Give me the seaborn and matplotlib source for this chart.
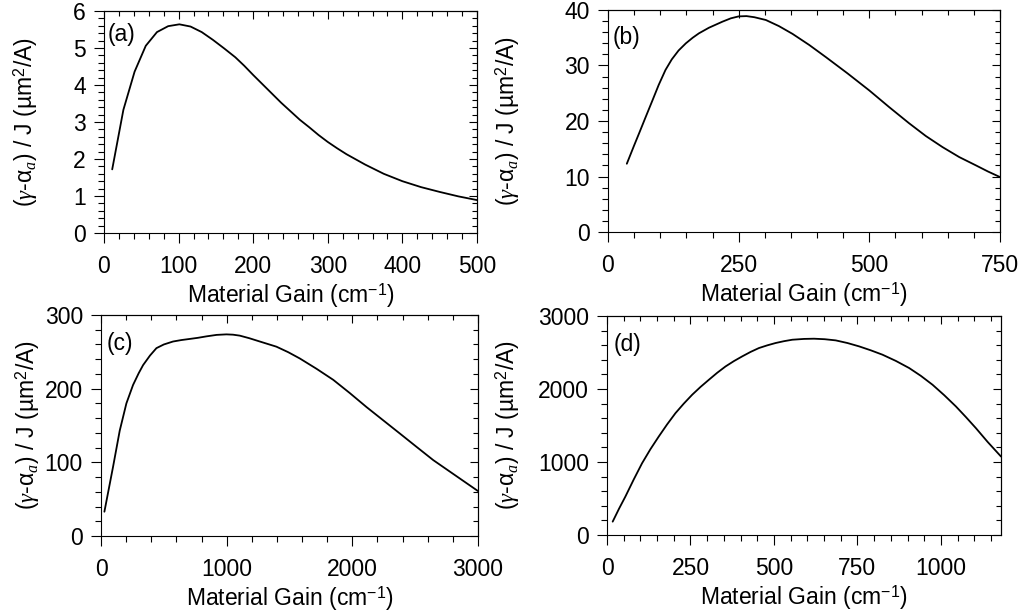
import matplotlib
matplotlib.use('Agg')
import matplotlib.pyplot as plt
from matplotlib.ticker import MultipleLocator, NullFormatter
import pandas as pd
import seaborn as sns

# values
gain_a = [11, 26, 41, 56, 71, 86, 101, 116, 131, 146, 161, 176, 188, 200, 212.5, 225,
          237.5, 250, 262.5, 275, 287.5, 300, 312.5, 325, 350, 375, 400, 425, 450,
          475, 500]
ratio_a = [1.72, 3.33, 4.36, 5.06, 5.43, 5.59, 5.64, 5.58, 5.43, 5.22, 4.99, 4.75,
           4.52, 4.27, 4.02, 3.77, 3.52, 3.29, 3.06, 2.86, 2.65, 2.46, 2.29, 2.13,
           1.85, 1.60, 1.40, 1.24, 1.11, 0.99, 0.89]

gain_b = [36, 50, 60, 72, 85, 97, 110, 122, 135, 149, 162, 174, 193, 219, 235, 250,
          265, 280, 302, 327, 353, 385, 417, 458, 500, 538, 576, 608, 640, 672, 704,
          727, 750]
ratio_b = [12.3, 15.6, 17.9, 20.7, 23.7, 26.5, 29.2, 31.1, 32.7, 34.0, 35.0, 35.8,
           36.8, 37.9, 38.5, 38.85, 38.9, 38.7, 38.2, 37.1, 35.7, 33.7, 31.5, 28.6,
           25.5, 22.5, 19.6, 17.3, 15.3, 13.5, 12.0, 10.9, 9.9]

gain_c = [27, 96, 149, 202, 255, 300, 335, 390, 441, 500, 573, 640, 706, 770, 839,
          920, 998, 1050, 1104, 1180, 1264, 1330, 1396, 1490, 1582, 1715, 1848, 1980,
          2113, 2246, 2379, 2511, 2644, 2822, 3000]
ratio_c = [33, 94, 143, 180, 205, 221, 232, 245, 255, 260, 264, 266, 267.5, 269, 271,
           273, 273.7, 273.3, 272, 268.5, 264, 260.5, 257, 249.5, 241, 227, 212, 194,
           175, 157, 139, 121, 103, 82, 61]

gain_d = [17, 36, 55, 80, 105, 130, 155, 180, 205, 230, 255, 280, 305, 330, 355, 380,
          405, 430, 455, 480, 505, 530, 555, 590, 620, 652, 685, 720, 755, 790, 825,
          865, 905, 940, 975, 1010, 1045, 1075, 1105, 1140, 1180]
ratio_d = [183, 360, 526, 760, 983, 1175, 1349, 1515, 1669, 1800, 1921, 2028, 2126,
           2222, 2309, 2382, 2447, 2508, 2561, 2598, 2630, 2655, 2675, 2686, 2689,
           2682, 2666, 2630, 2584, 2530, 2470, 2385, 2287, 2180, 2058, 1915, 1761,
           1615, 1463, 1275, 1075]

labels = ['(a)', '(b)', '(c)', '(d)']
xlims = [500, 750, 3000, 1180]
ylims = [6, 40, 300, 3000]

sns.set_style('ticks')
plt.rcParams['font.family'] = ['Liberation Sans', 'DejaVu Sans']
plt.rcParams['mathtext.fontset'] = 'custom'
plt.rcParams['mathtext.rm'] = 'Liberation Sans'
plt.rcParams['mathtext.it'] = 'Liberation Serif:italic'
plt.rcParams['font.size'] = 16.5
plt.rcParams['axes.linewidth'] = 0.8
for key in ['text.color', 'axes.labelcolor', 'xtick.color', 'ytick.color', 'axes.edgecolor']:
    plt.rcParams[key] = 'black'

W, H = 1019, 616
# pixel boxes: left, right, top, bottom
boxes = [(104, 477, 11, 233), (608, 1000, 10, 232),
         (101, 478, 315, 536), (607, 1001, 316, 535)]
ticks = [(100, 20, 1, 0.2), (250, 50, 10, 2), (1000, 200, 100, 20), (250, 50, 1000, 200)]
ylab_right = [40, 522, 42, 522]
tag_pos = [(0.011, 0.945), (0.013, 0.93), (0.016, 0.923), (0.018, 0.922)]

fig = plt.figure(figsize=(W / 100, H / 100), dpi=100)

data = [(gain_a, ratio_a), (gain_b, ratio_b), (gain_c, ratio_c), (gain_d, ratio_d)]
for i, (g, r) in enumerate(data):
    l, rr, t, b = boxes[i]
    ax = fig.add_axes([l / W, (H - b) / H, (rr - l) / W, (b - t) / H])
    df = pd.DataFrame({'gain': g, 'ratio': r})
    sns.lineplot(x='gain', y='ratio', data=df, ax=ax, color='black', linewidth=1.3)
    ax.set_xlim(0, xlims[i])
    ax.set_ylim(0, ylims[i])

    xmaj, xmin, ymaj, ymin = ticks[i]
    ax.xaxis.set_major_locator(MultipleLocator(xmaj))
    ax.xaxis.set_minor_locator(MultipleLocator(xmin))
    ax.yaxis.set_major_locator(MultipleLocator(ymaj))
    ax.yaxis.set_minor_locator(MultipleLocator(ymin))
    ax.tick_params(which='major', direction='out', length=7, width=0.8, color='k')
    ax.tick_params(which='minor', direction='out', length=4.3, width=0.8, color='k')
    ax.tick_params(axis='x', which='major', pad=9, labelsize=16.5)
    ax.tick_params(axis='y', which='major', pad=6, labelsize=16.5)

    # inward ticks on top and right
    top = ax.secondary_xaxis('top')
    top.xaxis.set_major_locator(MultipleLocator(xmaj))
    top.xaxis.set_minor_locator(MultipleLocator(xmin))
    top.xaxis.set_major_formatter(NullFormatter())
    top.tick_params(which='major', direction='in', length=5.5, width=0.8)
    top.tick_params(which='minor', direction='in', length=3.6, width=0.8)
    right = ax.secondary_yaxis('right')
    right.yaxis.set_major_locator(MultipleLocator(ymaj))
    right.yaxis.set_minor_locator(MultipleLocator(ymin))
    right.yaxis.set_major_formatter(NullFormatter())
    right.tick_params(which='major', direction='in', length=5.5, width=0.8)
    right.tick_params(which='minor', direction='in', length=3.6, width=0.8)

    ax.set_xlabel('Material Gain (cm$^{-1}$)', fontsize=16.5, labelpad=2)
    ax.set_ylabel(r'($\gamma$-α$_{a}$) / J (µm$^{2}$/A)', fontsize=16.5)
    ax.yaxis.set_label_coords((ylab_right[i] - l) / (rr - l), 0.5)
    ax.text(tag_pos[i][0], tag_pos[i][1], labels[i], transform=ax.transAxes,
            ha='left', va='top', fontsize=16.5)

fig.savefig('out.png', dpi=100)
